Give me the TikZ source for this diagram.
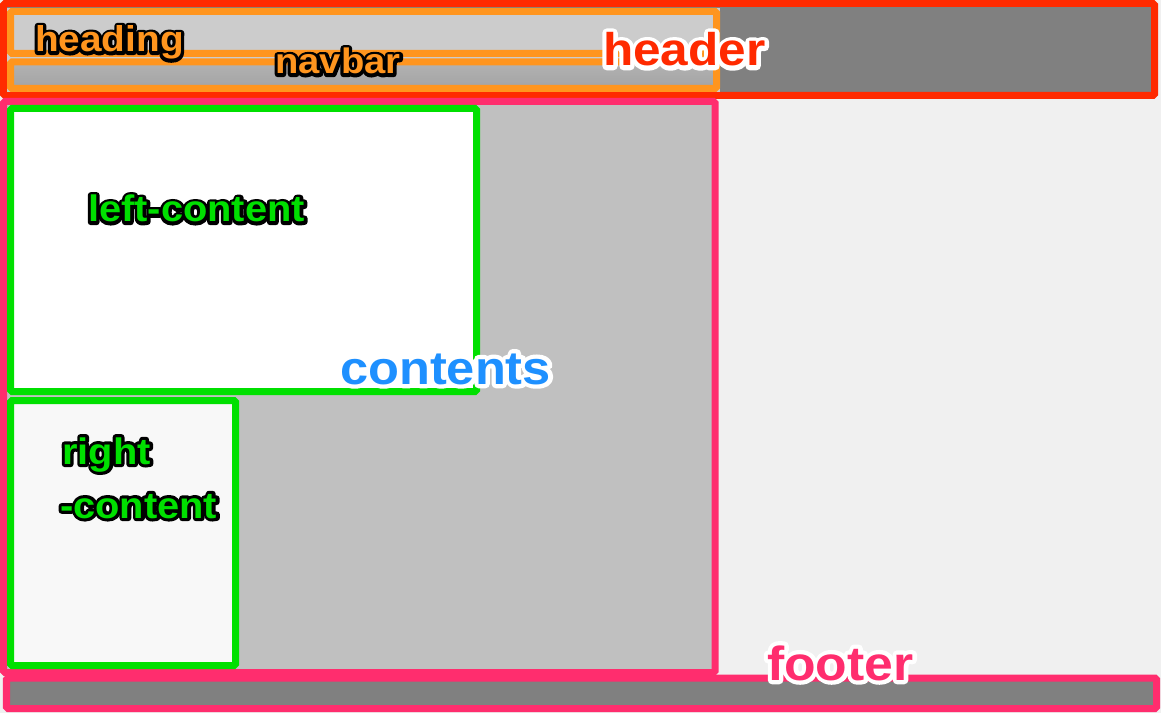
\documentclass[tikz,border=0pt]{standalone}
\usepackage{fontspec}
\setmainfont{Liberation Sans}
\newfontfamily\boxfont{Liberation Sans}[FakeStretch=1.08]
\usetikzlibrary{calc}

\definecolor{hdrred}{HTML}{FF2A00}
\definecolor{navorange}{HTML}{FF951E}
\definecolor{ctpink}{HTML}{FF2D6E}
\definecolor{boxgreen}{HTML}{00E000}
\definecolor{ctblue}{HTML}{1E90FF}
\definecolor{midgray}{HTML}{808080}
\definecolor{headgray}{HTML}{CCCCCC}
\definecolor{ctgray}{HTML}{C0C0C0}
\definecolor{pagegray}{HTML}{F0F0F0}
\definecolor{rightgray}{HTML}{F8F8F8}

% stroked copy of the text behind the filled one
\newcommand{\rimtext}[3]{\leavevmode\rlap{\color{#1}\special{pdf:literal direct 1 Tr #2 w 1 j 1 J}#3\special{pdf:literal direct 0 Tr}}#3}
\newcommand{\darkrim}[1]{\rimtext{black}{6.4}{#1}}
\newcommand{\lightrim}[1]{\rimtext{white}{8.6}{#1}}

\begin{document}
\begin{tikzpicture}[x=1bp,y=-1bp,
		frame/.style={line width=7bp,rounded corners=1.5bp},
		lbl/.style={anchor=base west,inner sep=0pt,font=\boxfont\bfseries\fontsize{#1}{#1}\selectfont}]
		\useasboundingbox (0,0) rectangle (1161,713);
		\fill[pagegray] (0,0) rectangle (1161,713);
		\coordinate (H1) at (3.5,3.5);
		\coordinate (H2) at (1154.5,95.5);
		\coordinate (G1) at (10.5,11.5);
		\coordinate (G2) at (716.5,53.5);
		\coordinate (N1) at (10.5,62);
		\coordinate (N2) at (716.5,88.5);
		\coordinate (C1) at (3.5,101.5);
		\coordinate (C2) at (715,672.5);
		\coordinate (L1) at (10.5,108.5);
		\coordinate (L2) at (476.5,391.5);
		\coordinate (R1) at (10.5,400.5);
		\coordinate (R2) at (235.5,665.5);
		\coordinate (F1) at (6.5,678);
		\coordinate (F2) at (1156.5,708.5);
		\draw[frame,hdrred,fill=midgray] (H1) rectangle (H2);
		\fill[headgray] (7,8) rectangle (720,92);
		\shade[top color=gray!60,bottom color=gray!72] (N1) rectangle (N2);
		\draw[frame,navorange] (G1) rectangle (G2);
		\draw[frame,navorange] (N1) rectangle (N2);
		\draw[frame,ctpink,fill=ctgray] (C1) rectangle (C2);
		\draw[frame,boxgreen,fill=white] (L1) rectangle (L2);
		\draw[frame,boxgreen,fill=rightgray] (R1) rectangle (R2);
		\draw[frame,ctpink,fill=midgray] (F1) rectangle (F2);
		\node[lbl=36,navorange] (heading) at (35,52) {\darkrim{heading}};
		\node[lbl=35.5,navorange] (navbar) at (275,74) {\darkrim{navbar}};
		\node[lbl=46,hdrred] (header) at (603,66) {\lightrim{header}};
		\node[lbl=37,boxgreen] (leftc) at (88,222) {\darkrim{left-content}};
		\node[lbl=47,ctblue] (contents) at (340,384) {\lightrim{contents}};
		\node[lbl=37,boxgreen] (rightc) at (62,464) {\darkrim{right}};
		\node[lbl=37,boxgreen] (rightc2) at (60,518) {\darkrim{-content}};
		\node[lbl=48,ctpink] (footer) at (767,680) {\lightrim{footer}};
	\end{tikzpicture}
\end{document}
